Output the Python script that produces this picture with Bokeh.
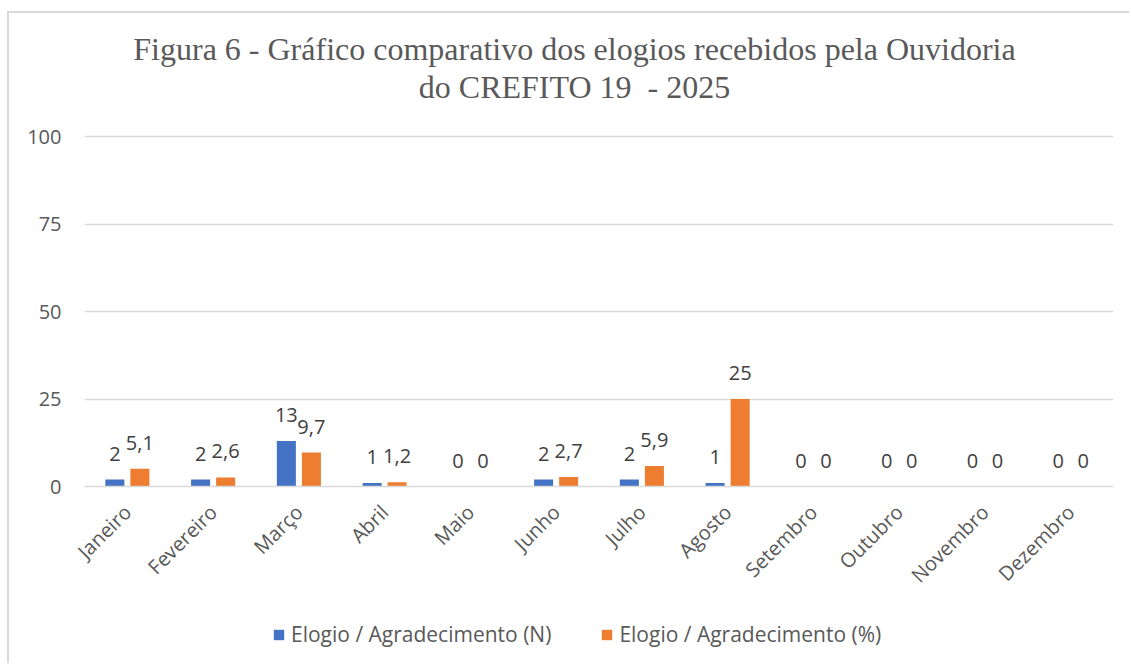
import math
from bokeh.plotting import figure
from bokeh.layouts import column
from bokeh.models import (ColumnDataSource, FactorRange, Range1d, LabelSet, Label,
                          Legend, LegendItem, FixedTicker)
from bokeh.core.properties import value
from bokeh.transform import dodge
from bokeh.embed import file_html
from bokeh.resources import INLINE

months = ["Janeiro", "Fevereiro", "Março", "Abril", "Maio", "Junho", "Julho",
          "Agosto", "Setembro", "Outubro", "Novembro", "Dezembro"]
elogio_n = [2, 2, 13, 1, 0, 2, 2, 1, 0, 0, 0, 0]
elogio_pct = [5.1, 2.6, 9.7, 1.2, 0, 2.7, 5.9, 25, 0, 0, 0, 0]
y_ticks = [0, 25, 50, 75, 100]
series_names = ["Elogio / Agradecimento (N)", "Elogio / Agradecimento (%)"]
title_lines = ["Figura 6 - Gráfico comparativo dos elogios recebidos pela Ouvidoria",
               "do CREFITO 19\u00a0 - 2025"]

n_labels = [str(v) for v in elogio_n]
pct_labels = [("%g" % v).replace(".", ",") for v in elogio_pct]

src = ColumnDataSource(dict(month=months, n=elogio_n, pct=elogio_pct,
                            n_lab=n_labels, pct_lab=pct_labels))

BLUE = "#4472C4"
ORANGE = "#ED7D31"
TICK = "#595959"
LAB = "#404040"
GRID = "#d9d9d9"
SANS = "Open Sans"
SERIF = "Liberation Serif"
W = 1120
TOP = 13          # page y where the chart box starts
TH, MH, LH = 110, 481, 59


def blank_fig(h, xr, yr):
    f = figure(width=W, height=h, x_range=xr, y_range=yr, title=None,
               x_axis_type=None, y_axis_type=None, output_backend="svg",
               toolbar_location=None, min_border=0, min_border_left=0,
               min_border_right=0, min_border_top=0, min_border_bottom=0)
    f.outline_line_color = None
    return f


# ---- title strip ----
tf = blank_fig(TH, Range1d(84, 1113), Range1d(TOP + TH, TOP))
for txt, base in zip(title_lines, [48, 86]):
    tf.add_layout(Label(x=574, y=base, text=txt, text_align="center",
                        text_baseline="alphabetic", text_font=SERIF,
                        text_font_size="32px", text_color=TICK))

# ---- main chart ----
p = figure(x_range=FactorRange(*months), y_range=Range1d(0, 101),
           width=W, height=MH, output_backend="svg", toolbar_location=None,
           min_border_left=75, min_border_right=16, min_border_top=10,
           min_border_bottom=118)
p.outline_line_color = None

off = 0.146
bw = 0.222
r1 = p.vbar(x=dodge("month", -off, range=p.x_range), top="n", width=bw,
            source=src, fill_color=BLUE, line_color=None)
r2 = p.vbar(x=dodge("month", off, range=p.x_range), top="pct", width=bw,
            source=src, fill_color=ORANGE, line_color=None)

for xf, yf, tfield in [(-off, "n", "n_lab"), (off, "pct", "pct_lab")]:
    p.add_layout(LabelSet(x=dodge("month", xf, range=p.x_range), y=yf, text=tfield,
                          source=src, y_offset=19, text_align="center",
                          text_baseline="alphabetic", text_font=value(SANS),
                          text_font_size=value("20px"), text_color=LAB))

p.yaxis.ticker = FixedTicker(ticks=y_ticks)
p.yaxis.axis_line_color = None
p.yaxis.major_tick_line_color = None
p.yaxis.minor_tick_line_color = None
p.yaxis.major_tick_out = 0
p.yaxis.major_label_standoff = 23
p.yaxis.major_label_text_font = SANS
p.yaxis.major_label_text_font_size = "20px"
p.yaxis.major_label_text_color = TICK

p.xaxis.axis_line_color = GRID
p.xaxis.axis_line_width = 1.5
p.xaxis.major_tick_line_color = None
p.xaxis.minor_tick_line_color = None
p.xaxis.major_label_orientation = math.pi / 4
p.xaxis.major_label_standoff = 22
p.xaxis.major_tick_out = 0
p.xaxis.major_label_text_font = SANS
p.xaxis.major_label_text_font_size = "20px"
p.xaxis.major_label_text_color = TICK

p.xgrid.grid_line_color = None
p.ygrid.grid_line_color = GRID
p.ygrid.grid_line_width = 1.5

# ---- legend strip ----
lf = blank_fig(LH, Range1d(0, 1), Range1d(0, 1))
g1 = lf.vbar(x=[-1], top=[0], width=0, fill_color=BLUE, line_color=None)
g2 = lf.vbar(x=[-1], top=[0], width=0, fill_color=ORANGE, line_color=None)
legend = Legend(items=[LegendItem(label=series_names[0], renderers=[g1]),
                       LegendItem(label=series_names[1], renderers=[g2])],
                orientation="horizontal", location=(188, 15),
                glyph_width=13, glyph_height=13, label_standoff=6, spacing=49,
                padding=0, margin=0, border_line_color=None,
                background_fill_alpha=0,
                label_text_font=SANS, label_text_font_size="21px",
                label_text_color=TICK)
lf.add_layout(legend)

page = column(tf, p, lf, spacing=0,
              styles={"margin-top": "11px", "margin-left": "7px",
                      "border-top": "2px solid #d9d9d9",
                      "border-left": "2px solid #d9d9d9"})

open("out.html", "w").write(file_html(page, INLINE))
